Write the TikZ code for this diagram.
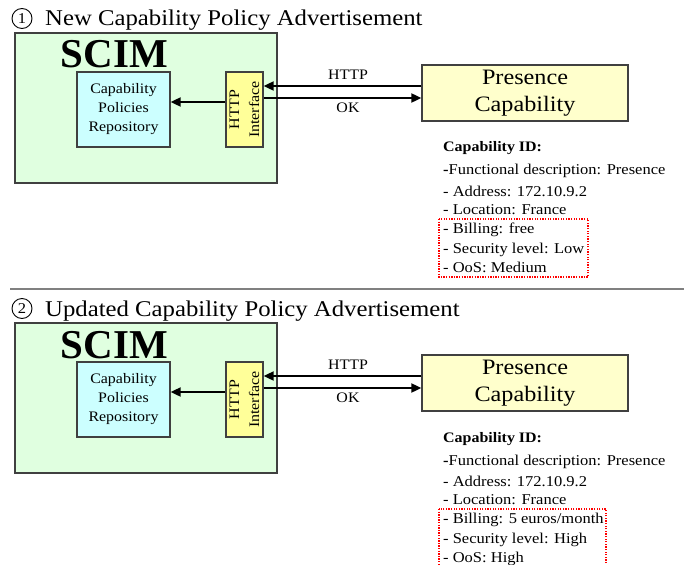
\documentclass[tikz,border=0pt]{standalone}
\usepackage{fontspec}
\setmainfont{Liberation Serif}[FakeStretch=1.1]
\newfontfamily\scimfont{Liberation Serif}
\usetikzlibrary{arrows.meta}
\definecolor{scimgreen}{RGB}{224,255,224}
\definecolor{repocyan}{RGB}{204,255,255}
\definecolor{ifyellow}{RGB}{255,255,153}
\definecolor{presyellow}{RGB}{255,255,204}
\definecolor{boxline}{RGB}{64,64,64}
\tikzset{
  box/.style={draw=boxline, line width=1.3pt, inner sep=0pt, anchor=center},
  arr/.style={line width=1.9pt, -{Triangle[length=10pt,width=9pt]}},
  info/.style={anchor=base west, inner sep=0pt, font=\rmfamily\fontsize{15}{18}\selectfont},
  lbl/.style={inner sep=0pt, font=\rmfamily\fontsize{14.5}{18}\selectfont},
  reddot/.style={draw=red, line width=1.3pt, dash pattern=on 1.3pt off 1.3pt},
}
\newcommand\mypanel[8]{%
\begin{scope}[shift={(0,#1)}]
  \node[circle, draw, line width=0.9pt, inner sep=0pt, minimum size=20pt,
        font=\rmfamily\fontsize{15}{15}\selectfont] (num#2) at (22,18.5) {#3};
  \node[anchor=base west, inner sep=0pt, font=\rmfamily\fontsize{22.5}{27}\selectfont]
        (title#2) at (45,26) {#4};
  \node[box, fill=scimgreen, minimum width=262pt, minimum height=150pt] (scim#2) at (146,108) {};
  \node[anchor=base, inner sep=0pt, font=\scimfont\bfseries\fontsize{41}{41}\selectfont]
        (scimt#2) at (114.5,68) {SCIM};
  \node[box, fill=repocyan, minimum width=93pt, minimum height=75pt, align=center,
        font=\rmfamily\fontsize{14.5}{19}\selectfont] (repo#2) at (123.5,109.5)
        {Capability\\Policies\\Repository};
  \node[box, fill=ifyellow, minimum width=37pt, minimum height=75pt] (iface#2) at (244.5,109.5) {};
  \node[rotate=90, align=center, inner sep=0pt, font=\rmfamily\fontsize{14.5}{20}\selectfont]
        (ifacet#2) at (iface#2.center) {HTTP\\Interface};
  \node[box, fill=presyellow, minimum width=206pt, minimum height=56pt, align=center,
        font=\rmfamily\fontsize{22}{27}\selectfont] (pres#2) at (525,93) {Presence\\Capability};
  \draw[arr] (iface#2.west |- {(0,102)}) -- (repo#2.east |- {(0,102)});
  \draw[arr] (pres#2.west |- {(0,86)}) -- (iface#2.east |- {(0,86)});
  \draw[arr] (iface#2.east |- {(0,98)}) -- (pres#2.west |- {(0,98)});
  \node[lbl] (http#2) at (348,75) {HTTP};
  \node[lbl] (ok#2) at (348,108) {OK};
  \node[info, font=\rmfamily\bfseries\fontsize{14.5}{18}\selectfont] (id#2) at (443,152) {Capability ID:};
  \node[info] (fd#2) at (443,175) {\textbf{-}Functional description: Presence};
  \node[info] (ad#2) at (443,196) {- Address: 172.10.9.2};
  \node[info] (lo#2) at (443,214) {- Location: France};
  \node[info] (bi#2) at (443,233) {- Billing: #5};
  \node[info] (se#2) at (443,253) {- Security level: #6};
  \node[info] (qo#2) at (443,272) {- OoS: #7};
  \draw[reddot] (439,219) rectangle (#8,277);
\end{scope}}
\begin{document}
\begin{tikzpicture}[x=1pt,y=-1pt]
  \clip (0,0) rectangle (684,564);
  \mypanel{0}{a}{1}{New Capability Policy Advertisement}{free}{Low}{Medium}{588}
  \draw[gray, line width=2pt] (10,289) -- (684,289);
  \mypanel{290}{b}{2}{Updated Capability Policy Advertisement}{5 euros/month}{High}{High}{606}
\end{tikzpicture}
\end{document}
